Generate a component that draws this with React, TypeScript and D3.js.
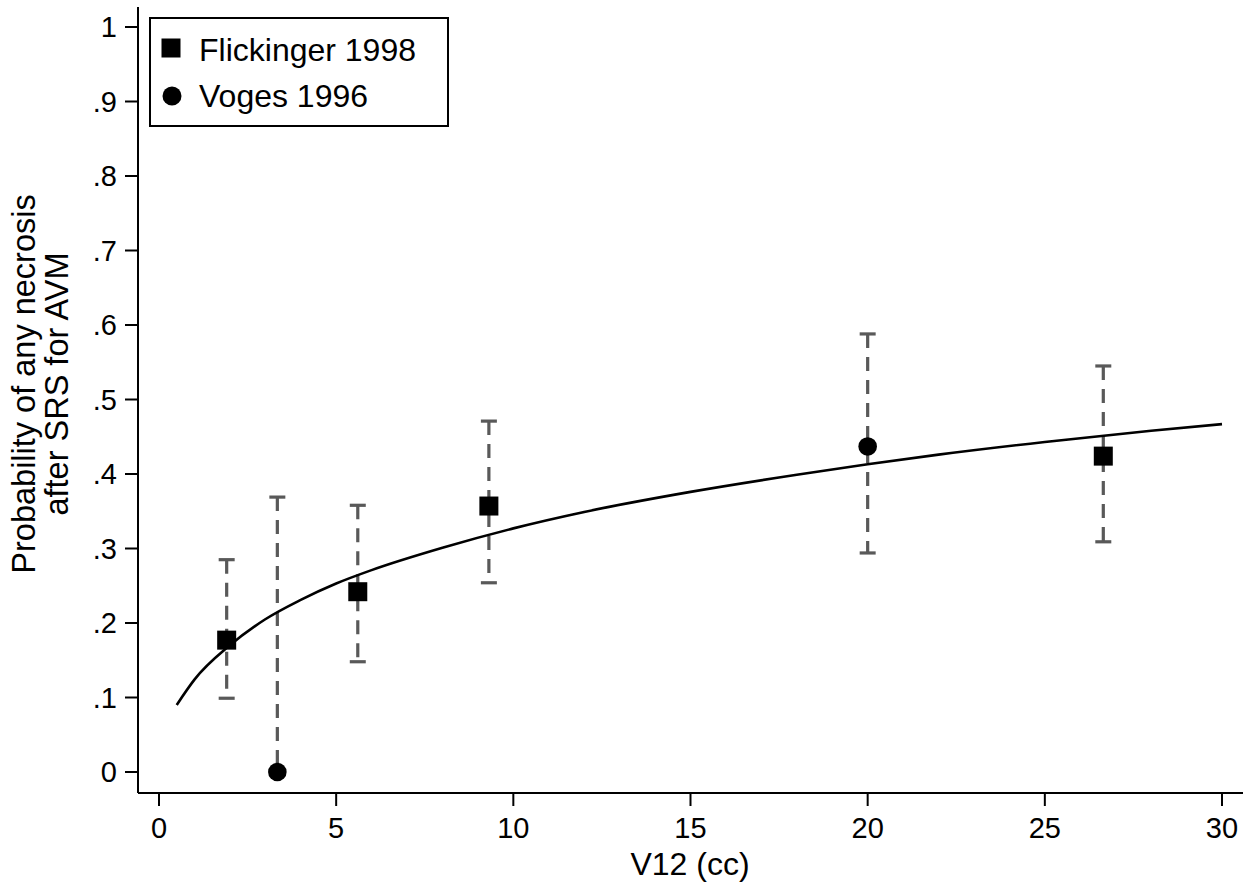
import React, { useEffect, useRef } from "react";
import * as d3 from "d3";

// Flickinger 1998 (squares)
const flickX = [1.91, 5.61, 9.31, 26.65];
const flickY = [0.177, 0.242, 0.357, 0.424];
const flickLo = [0.099, 0.148, 0.254, 0.309];
const flickHi = [0.285, 0.358, 0.471, 0.545];

// Voges 1996 (circles)
const vogesX = [3.34, 20.0];
const vogesY = [0, 0.437];
const vogesLo = [0, 0.294];
const vogesHi = [0.369, 0.588];

// fitted curve
const fitX = [0.5, 1, 2, 3, 4, 5, 6, 8, 10, 12, 15, 18, 20, 22, 25, 28, 30];
const fitY = [0.09, 0.124, 0.17, 0.205, 0.231, 0.253, 0.271, 0.301, 0.327, 0.349, 0.376, 0.399, 0.413, 0.426, 0.443, 0.458, 0.467];

const xTicks = [0, 5, 10, 15, 20, 25, 30];
const yTicks = [0, 0.1, 0.2, 0.3, 0.4, 0.5, 0.6, 0.7, 0.8, 0.9, 1];
const yTickLabels = ["0", ".1", ".2", ".3", ".4", ".5", ".6", ".7", ".8", ".9", "1"];

const legendNames = ["Flickinger 1998", "Voges 1996"];

const FONT = "'Liberation Sans', Arial, Helvetica, sans-serif";

function Chart() {
  const ref = useRef<SVGSVGElement>(null);

  useEffect(() => {
    const svg = d3.select(ref.current);
    svg.selectAll("*").remove();

    const x = d3.scaleLinear().domain([0, 30]).range([159, 1222]);
    const y = d3.scaleLinear().domain([0, 1]).range([772, 27]);

    const left = 138,
      bottom = 793;

    // axes lines
    svg
      .append("line")
      .attr("x1", left)
      .attr("x2", left)
      .attr("y1", bottom)
      .attr("y2", 7)
      .attr("stroke", "#000")
      .attr("stroke-width", 2);
    svg
      .append("line")
      .attr("x1", left)
      .attr("x2", 1243)
      .attr("y1", bottom)
      .attr("y2", bottom)
      .attr("stroke", "#000")
      .attr("stroke-width", 2);

    // y ticks
    const yt = svg.append("g");
    yTicks.forEach((t, i) => {
      yt.append("line")
        .attr("x1", left - 13)
        .attr("x2", left)
        .attr("y1", y(t))
        .attr("y2", y(t))
        .attr("stroke", "#000")
        .attr("stroke-width", 2);
      yt.append("text")
        .attr("x", 117)
        .attr("y", y(t))
        .attr("dy", "0.36em")
        .attr("text-anchor", "end")
        .attr("font-family", FONT)
        .attr("font-size", 29)
        .text(yTickLabels[i]);
    });

    // x ticks
    const xt = svg.append("g");
    xTicks.forEach((t) => {
      xt.append("line")
        .attr("x1", x(t))
        .attr("x2", x(t))
        .attr("y1", bottom)
        .attr("y2", bottom + 13)
        .attr("stroke", "#000")
        .attr("stroke-width", 2);
      xt.append("text")
        .attr("x", x(t))
        .attr("y", 838)
        .attr("text-anchor", "middle")
        .attr("font-family", FONT)
        .attr("font-size", 29)
        .text(String(t));
    });

    // axis titles
    svg
      .append("text")
      .attr("x", 690)
      .attr("y", 875)
      .attr("text-anchor", "middle")
      .attr("font-family", FONT)
      .attr("font-size", 32)
      .text("V12 (cc)");

    const yTitle = svg
      .append("text")
      .attr("transform", "translate(0,384) rotate(-90)")
      .attr("text-anchor", "middle")
      .attr("font-family", FONT)
      .attr("font-size", 32.5);
    yTitle.append("tspan").attr("x", 0).attr("y", 35).text("Probability of any necrosis");
    yTitle.append("tspan").attr("x", 0).attr("y", 68).text("after SRS for AVM");

    // error bars
    const bars = [
      ...flickX.map((v, i) => ({ x: v, lo: flickLo[i], hi: flickHi[i] })),
      ...vogesX.map((v, i) => ({ x: v, lo: vogesLo[i], hi: vogesHi[i] })),
    ];
    const eb = svg.append("g").attr("stroke", "#595959").attr("stroke-width", 3.2);
    bars.forEach((b) => {
      eb.append("line")
        .attr("x1", x(b.x))
        .attr("x2", x(b.x))
        .attr("y1", y(b.hi))
        .attr("y2", y(b.lo))
        .attr("stroke-dasharray", "14,9");
      [b.lo, b.hi].forEach((v) => {
        eb.append("line")
          .attr("x1", x(b.x) - 8)
          .attr("x2", x(b.x) + 8)
          .attr("y1", y(v))
          .attr("y2", y(v));
      });
    });

    // fitted curve
    const line = d3
      .line<number>()
      .x((d) => x(fitX[d]))
      .y((d) => y(fitY[d]))
      .curve(d3.curveMonotoneX);
    svg
      .append("path")
      .attr("d", line(d3.range(fitX.length)))
      .attr("fill", "none")
      .attr("stroke", "#000")
      .attr("stroke-width", 2.6);

    // markers
    const sq = 19;
    svg
      .append("g")
      .selectAll("rect")
      .data(flickX)
      .enter()
      .append("rect")
      .attr("x", (d) => x(d) - sq / 2)
      .attr("y", (d, i) => y(flickY[i]) - sq / 2)
      .attr("width", sq)
      .attr("height", sq)
      .attr("fill", "#000");
    svg
      .append("g")
      .selectAll("circle")
      .data(vogesX)
      .enter()
      .append("circle")
      .attr("cx", (d) => x(d))
      .attr("cy", (d, i) => y(vogesY[i]))
      .attr("r", 9.3)
      .attr("fill", "#000");

    // legend
    const lg = svg.append("g");
    lg.append("rect")
      .attr("x", 150)
      .attr("y", 18)
      .attr("width", 298)
      .attr("height", 108)
      .attr("fill", "#fff")
      .attr("stroke", "#000")
      .attr("stroke-width", 2);
    lg.append("rect")
      .attr("x", 171 - 9.5)
      .attr("y", 48 - 9.5)
      .attr("width", 19)
      .attr("height", 19)
      .attr("fill", "#000");
    lg.append("circle").attr("cx", 172).attr("cy", 96).attr("r", 9.5).attr("fill", "#000");
    legendNames.forEach((n, i) => {
      lg.append("text")
        .attr("x", 199)
        .attr("y", 61 + i * 46)
        .attr("font-family", FONT)
        .attr("font-size", 32)
        .text(n);
    });
  }, []);

  return (
    <svg
      ref={ref}
      width={1260}
      height={882}
      style={{ position: "absolute", left: 0, top: 0, background: "#fff" }}
    />
  );
}

export default function App() {
  return (
    <div className="App">
      <Chart />
    </div>
  );
}
